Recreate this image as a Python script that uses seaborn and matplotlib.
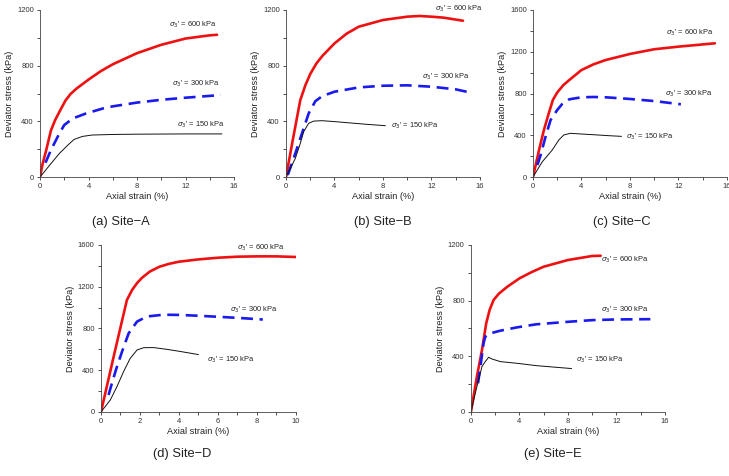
import numpy as np
import pandas as pd
import matplotlib
matplotlib.use("Agg")
import matplotlib.pyplot as plt
from matplotlib.ticker import MultipleLocator
import seaborn as sns

# ---- data (strain %, deviator stress kPa) ----
# Site-A
a600_x = [0, 0.2, 0.5, 0.9, 1.25, 1.6, 2.1, 2.5, 3, 4, 5, 6, 8, 10, 12, 14, 14.6]
a600_y = [0, 90, 190, 335, 410, 469, 550, 595, 635, 700, 760, 810, 890, 950, 995, 1018, 1022]
a300_x = [0.45, 0.9, 1.6, 2.0, 2.7, 3.8, 5.2, 6, 8, 10, 12, 14.9]
a300_y = [103, 194, 314, 374, 421, 457, 493, 508, 535, 555, 570, 589]
a150_x = [0, 0.8, 1.6, 2.3, 2.8, 3.5, 4.3, 6, 8, 12, 15]
a150_y = [0, 86, 170, 230, 270, 292, 302, 306, 308, 310, 310]
# Site-B
b600_x = [0, 0.6, 1.18, 1.6, 2, 2.5, 3, 4, 5, 6, 8, 10, 11, 12, 13, 14.6]
b600_y = [0, 285, 553, 660, 740, 815, 870, 960, 1030, 1080, 1128, 1152, 1157, 1152, 1145, 1123]
b300_x = [0.15, 0.77, 1.32, 1.87, 2.42, 3, 4, 6, 8, 10, 12, 14, 14.9]
b300_y = [15, 170, 314, 457, 545, 582, 613, 644, 656, 659, 649, 630, 613]
b150_x = [0, 0.77, 1.18, 1.46, 1.87, 2.28, 2.97, 4.07, 5.4, 6.5, 8.2]
b150_y = [0, 134, 242, 326, 386, 402, 405, 398, 388, 380, 369]
# Site-C
c600_x = [0, 0.5, 0.9, 1.3, 1.64, 2, 2.5, 3, 4, 5, 6, 8, 10, 12, 15]
c600_y = [0, 259, 450, 610, 738, 810, 880, 930, 1025, 1080, 1121, 1179, 1224, 1249, 1281]
c300_x = [0.36, 0.63, 1.04, 1.45, 2.0, 2.41, 3, 4, 5, 6, 8, 10, 12.2]
c300_y = [115, 211, 387, 546, 642, 700, 745, 764, 767, 764, 748, 728, 697]
c150_x = [0, 0.77, 1.59, 2.13, 2.54, 3.09, 4.05, 5.36, 6.3, 7.3]
c150_y = [0, 147, 259, 355, 403, 419, 412, 403, 396, 390]
# Site-D
d600_x = [0, 0.65, 1.33, 1.6, 1.85, 2.1, 2.5, 3, 3.5, 4, 5, 6, 7, 8, 9, 10]
d600_y = [0, 530, 1073, 1170, 1235, 1285, 1345, 1392, 1420, 1440, 1462, 1478, 1488, 1491, 1491, 1485]
d300_x = [0.39, 0.56, 0.82, 1.08, 1.42, 1.85, 2.36, 3.2, 4, 5, 6, 7, 8.3]
d300_y = [163, 275, 434, 578, 754, 866, 915, 932, 930, 922, 912, 902, 886]
d150_x = [0, 0.48, 0.82, 1.16, 1.5, 1.85, 2.19, 2.7, 3.35, 4, 5]
d150_y = [0, 115, 243, 387, 514, 594, 616, 617, 601, 582, 550]
# Site-E
e600_x = [0, 0.49, 0.91, 1.26, 1.54, 1.87, 2.3, 3, 4, 5, 6, 8, 10, 10.7]
e600_y = [0, 254, 445, 637, 733, 805, 850, 900, 960, 1005, 1044, 1092, 1121, 1123]
e300_x = [0.58, 0.82, 1.04, 1.18, 1.59, 2.42, 3.79, 5.38, 8, 10, 12, 14.8]
e300_y = [206, 350, 493, 541, 565, 584, 608, 630, 648, 660, 665, 667]
e150_x = [0, 0.49, 0.91, 1.18, 1.46, 1.73, 2.42, 3.79, 5.38, 6.5, 8.3]
e150_y = [0, 182, 326, 362, 393, 381, 362, 350, 333, 325, 312]

sites = ["A", "B", "C", "D", "E"]
captions = ["(a) Site\u2212A", "(b) Site\u2212B", "(c) Site\u2212C", "(d) Site\u2212D", "(e) Site\u2212E"]
pressures = ["600", "300", "150"]
curves = {
    "A": [(a600_x, a600_y), (a300_x, a300_y), (a150_x, a150_y)],
    "B": [(b600_x, b600_y), (b300_x, b300_y), (b150_x, b150_y)],
    "C": [(c600_x, c600_y), (c300_x, c300_y), (c150_x, c150_y)],
    "D": [(d600_x, d600_y), (d300_x, d300_y), (d150_x, d150_y)],
    "E": [(e600_x, e600_y), (e300_x, e300_y), (e150_x, e150_y)],
}
# label anchor (strain, stress) for each curve label
label_pos = {
    "A": [(10.6, 1092), (10.9, 666), (11.3, 378)],
    "B": [(12.25, 1205), (11.2, 716), (8.7, 366)],
    "C": [(11.0, 1377), (10.9, 795), (7.66, 387)],
    "D": [(6.96, 1574), (6.62, 976), (5.42, 496)],
    "E": [(10.7, 1092), (10.7, 730), (8.67, 372)],
}
xmax = {"A": 16, "B": 16, "C": 16, "D": 10, "E": 16}
xstep = {"A": 4, "B": 4, "C": 4, "D": 2, "E": 4}
ymax = {"A": 1200, "B": 1200, "C": 1600, "D": 1600, "E": 1200}

rows = []
for s in sites:
    for p, (xs, ys) in zip(pressures, curves[s]):
        for x, y in zip(xs, ys):
            rows.append({"site": s, "sigma": p, "strain": x, "stress": y})
df = pd.DataFrame(rows)

sns.set_style("ticks")
plt.rcParams["font.family"] = ["Liberation Sans", "DejaVu Sans"]
plt.rcParams["mathtext.fontset"] = "dejavusans"

fig = plt.figure(figsize=(7.29, 4.76), dpi=100)
boxes = {
    "A": [0.0549, 0.628, 0.2661, 0.351],
    "B": [0.3923, 0.628, 0.2661, 0.351],
    "C": [0.7311, 0.628, 0.2661, 0.351],
    "D": [0.1385, 0.1345, 0.2675, 0.3508],
    "E": [0.6460, 0.1345, 0.2661, 0.3508],
}
cap_pos = {"A": (0.415, -0.27), "B": (0.50, -0.27), "C": (0.46, -0.27),
           "D": (0.418, -0.25), "E": (0.42, -0.25)}
styles = {
    "600": dict(color="#ee1111", lw=1.9, ls="-"),
    "300": dict(color="#1a1aee", lw=1.9, ls=(0, (4.5, 2.5))),
    "150": dict(color="#111111", lw=0.7, ls="-"),
}

for s, cap in zip(sites, captions):
    ax = fig.add_axes(boxes[s])
    sub = df[df["site"] == s]
    for i, p in enumerate(pressures):
        d = sub[sub["sigma"] == p]
        st = styles[p]
        sns.lineplot(data=d, x="strain", y="stress", ax=ax, color=st["color"],
                     linewidth=st["lw"], linestyle=st["ls"], sort=False,
                     estimator=None, legend=False)
        lx, ly = label_pos[s][i]
        ax.text(lx, ly, r"$\sigma_3$' = " + p + " kPa", fontsize=5.4,
                va="center", ha="left", color="#222222")
    ax.set_xlim(0, xmax[s])
    ax.set_ylim(0, ymax[s])
    ax.xaxis.set_major_locator(MultipleLocator(xstep[s]))
    ax.xaxis.set_minor_locator(MultipleLocator(xstep[s] / 2))
    ax.yaxis.set_major_locator(MultipleLocator(400))
    ax.yaxis.set_minor_locator(MultipleLocator(200))
    ax.tick_params(which="both", direction="out", length=2.5, width=0.6,
                   labelsize=5.5, colors="#333333", pad=2)
    for sp in ["top", "right"]:
        ax.spines[sp].set_visible(False)
    for sp in ["left", "bottom"]:
        ax.spines[sp].set_linewidth(0.6)
        ax.spines[sp].set_color("#444444")
    ax.set_xlabel("Axial strain (%)", fontsize=6.6, labelpad=1.5, color="#222222")
    ax.set_ylabel("Deviator stress (kPa)", fontsize=6.6, labelpad=2, color="#222222")
    cx, cy = cap_pos[s]
    ax.text(cx, cy, cap, transform=ax.transAxes, ha="center", va="center",
            fontsize=9.3, color="#222222")

fig.savefig("out.png", dpi=100)
